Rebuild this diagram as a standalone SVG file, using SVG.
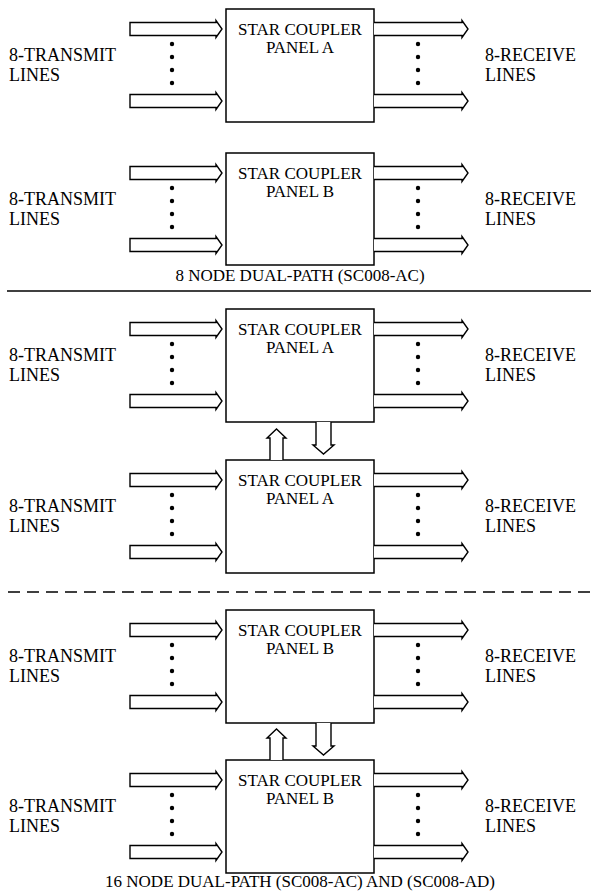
<svg xmlns="http://www.w3.org/2000/svg" xmlns:xlink="http://www.w3.org/1999/xlink" width="591" height="895" viewBox="0 0 591 895">
<style>
  .box { fill: #fff; stroke: #000; stroke-width: 1.5; }
  .arr { fill: #fff; stroke: #000; stroke-width: 1.4; stroke-linejoin: miter; }
  .t { font-family: "Liberation Serif", "Times New Roman", serif; font-size: 17px; fill: #000; }
  .side { font-family: "Liberation Serif", "Times New Roman", serif; font-size: 18px; fill: #000; }
  .mid { text-anchor: middle; }
  .dot { fill: #000; }
  .rule { stroke: #000; stroke-width: 1.3; fill: none; }
</style>
<defs>
  <path id="inArrow" class="arr" d="M0,-6.5 H86 V-8.5 L92,0 L86,8.5 V6.5 H0 Z"/>
  <path id="outArrow" class="arr" d="M0,-6.5 H88 V-8.5 L94,0 L88,8.5 V6.5 H0"/>
  <g id="dots">
    <circle class="dot" cx="0" cy="35" r="2.2"/>
    <circle class="dot" cx="0" cy="48" r="2.2"/>
    <circle class="dot" cx="0" cy="61" r="2.2"/>
    <circle class="dot" cx="0" cy="74" r="2.2"/>
  </g>
</defs>

<!-- nodes -->
<g id="panel1"><rect class="box" x="226" y="9" width="148" height="113"/><text class="t mid" x="300" y="35">STAR COUPLER</text><text class="t mid" x="300" y="53">PANEL A</text></g>
<g id="panel2"><rect class="box" x="226" y="153" width="148" height="112"/><text class="t mid" x="300" y="179">STAR COUPLER</text><text class="t mid" x="300" y="197">PANEL B</text></g>
<g id="panel3"><rect class="box" x="226" y="309" width="148" height="113"/><text class="t mid" x="300" y="335">STAR COUPLER</text><text class="t mid" x="300" y="353">PANEL A</text></g>
<g id="panel4"><rect class="box" x="226" y="460" width="148" height="113"/><text class="t mid" x="300" y="486">STAR COUPLER</text><text class="t mid" x="300" y="504">PANEL A</text></g>
<g id="panel5"><rect class="box" x="226" y="610" width="148" height="113"/><text class="t mid" x="300" y="636">STAR COUPLER</text><text class="t mid" x="300" y="654">PANEL B</text></g>
<g id="panel6"><rect class="box" x="226" y="760" width="148" height="113"/><text class="t mid" x="300" y="786">STAR COUPLER</text><text class="t mid" x="300" y="804">PANEL B</text></g>

<!-- side labels -->
<g id="tx1"><text class="side" x="9" y="61">8-TRANSMIT</text><text class="side" x="9" y="81">LINES</text></g>
<g id="rx1"><text class="side" x="485" y="61">8-RECEIVE</text><text class="side" x="485" y="81">LINES</text></g>
<g id="tx2"><text class="side" x="9" y="205">8-TRANSMIT</text><text class="side" x="9" y="225">LINES</text></g>
<g id="rx2"><text class="side" x="485" y="205">8-RECEIVE</text><text class="side" x="485" y="225">LINES</text></g>
<g id="tx3"><text class="side" x="9" y="361">8-TRANSMIT</text><text class="side" x="9" y="381">LINES</text></g>
<g id="rx3"><text class="side" x="485" y="361">8-RECEIVE</text><text class="side" x="485" y="381">LINES</text></g>
<g id="tx4"><text class="side" x="9" y="512">8-TRANSMIT</text><text class="side" x="9" y="532">LINES</text></g>
<g id="rx4"><text class="side" x="485" y="512">8-RECEIVE</text><text class="side" x="485" y="532">LINES</text></g>
<g id="tx5"><text class="side" x="9" y="662">8-TRANSMIT</text><text class="side" x="9" y="682">LINES</text></g>
<g id="rx5"><text class="side" x="485" y="662">8-RECEIVE</text><text class="side" x="485" y="682">LINES</text></g>
<g id="tx6"><text class="side" x="9" y="812">8-TRANSMIT</text><text class="side" x="9" y="832">LINES</text></g>
<g id="rx6"><text class="side" x="485" y="812">8-RECEIVE</text><text class="side" x="485" y="832">LINES</text></g>

<!-- connectors -->
<g id="connectors">
  <use href="#inArrow" xlink:href="#inArrow" x="130" y="29"/>
  <use href="#inArrow" xlink:href="#inArrow" x="130" y="101"/>
  <use href="#outArrow" xlink:href="#outArrow" x="374" y="29"/>
  <use href="#outArrow" xlink:href="#outArrow" x="374" y="101"/>
  <use href="#dots" xlink:href="#dots" x="172" y="9"/>
  <use href="#dots" xlink:href="#dots" x="418" y="9"/>

  <use href="#inArrow" xlink:href="#inArrow" x="130" y="173"/>
  <use href="#inArrow" xlink:href="#inArrow" x="130" y="245"/>
  <use href="#outArrow" xlink:href="#outArrow" x="374" y="173"/>
  <use href="#outArrow" xlink:href="#outArrow" x="374" y="245"/>
  <use href="#dots" xlink:href="#dots" x="172" y="153"/>
  <use href="#dots" xlink:href="#dots" x="418" y="153"/>

  <use href="#inArrow" xlink:href="#inArrow" x="130" y="329"/>
  <use href="#inArrow" xlink:href="#inArrow" x="130" y="401"/>
  <use href="#outArrow" xlink:href="#outArrow" x="374" y="329"/>
  <use href="#outArrow" xlink:href="#outArrow" x="374" y="401"/>
  <use href="#dots" xlink:href="#dots" x="172" y="309"/>
  <use href="#dots" xlink:href="#dots" x="418" y="309"/>

  <use href="#inArrow" xlink:href="#inArrow" x="130" y="480"/>
  <use href="#inArrow" xlink:href="#inArrow" x="130" y="552"/>
  <use href="#outArrow" xlink:href="#outArrow" x="374" y="480"/>
  <use href="#outArrow" xlink:href="#outArrow" x="374" y="552"/>
  <use href="#dots" xlink:href="#dots" x="172" y="460"/>
  <use href="#dots" xlink:href="#dots" x="418" y="460"/>

  <use href="#inArrow" xlink:href="#inArrow" x="130" y="630"/>
  <use href="#inArrow" xlink:href="#inArrow" x="130" y="702"/>
  <use href="#outArrow" xlink:href="#outArrow" x="374" y="630"/>
  <use href="#outArrow" xlink:href="#outArrow" x="374" y="702"/>
  <use href="#dots" xlink:href="#dots" x="172" y="610"/>
  <use href="#dots" xlink:href="#dots" x="418" y="610"/>

  <use href="#inArrow" xlink:href="#inArrow" x="130" y="780"/>
  <use href="#inArrow" xlink:href="#inArrow" x="130" y="852"/>
  <use href="#outArrow" xlink:href="#outArrow" x="374" y="780"/>
  <use href="#outArrow" xlink:href="#outArrow" x="374" y="852"/>
  <use href="#dots" xlink:href="#dots" x="172" y="760"/>
  <use href="#dots" xlink:href="#dots" x="418" y="760"/>

  <!-- vertical links between stacked panels -->
  <path class="arr" d="M270,460 V438 H267 L276.5,429 L286,438 H283 V460"/>
  <path class="arr" d="M316,422 V445 H313 L323.5,454 L334,445 H331 V422"/>
  <path class="arr" d="M270,760 V738 H267 L276.5,729 L286,738 H283 V760"/>
  <path class="arr" d="M316,723 V746 H313 L323.5,755 L334,746 H331 V723"/>
</g>

<!-- captions and separators -->
<g id="caption1"><text class="t mid" x="300" y="281">8 NODE DUAL-PATH (SC008-AC)</text></g>
<line class="rule" x1="7" y1="291" x2="591" y2="291"/>
<line class="rule" x1="8" y1="592" x2="591" y2="592" stroke-dasharray="12 7"/>
<g id="caption2"><text class="t mid" x="300" y="887">16 NODE DUAL-PATH (SC008-AC) AND (SC008-AD)</text></g>
</svg>
